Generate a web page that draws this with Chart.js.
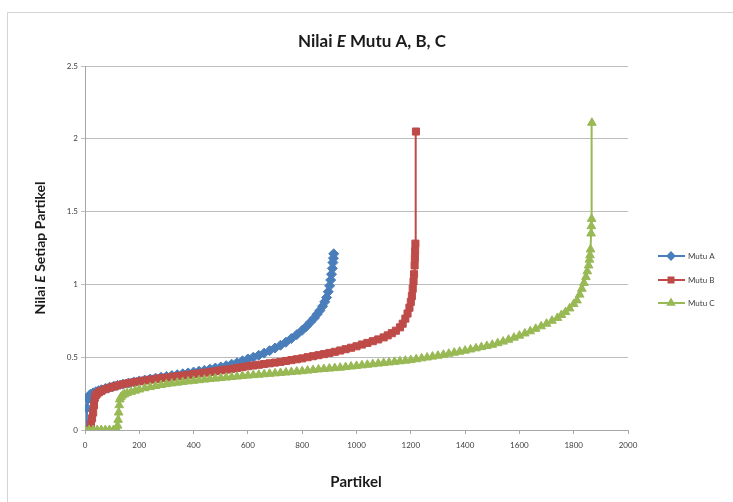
<!DOCTYPE html>
<html>
<head>
<meta charset="utf-8">
<title>Nilai E Mutu A, B, C</title>
<script src="https://cdn.jsdelivr.net/npm/chart.js@4"></script>
<style>
  html, body { margin: 0; padding: 0; background: #ffffff; }
  #wrap { width: 733px; height: 502px; position: relative; }
</style>
</head>
<body>
<div id="wrap"><canvas id="chart" width="733" height="502"></canvas></div>
<script>
// Particle index (x) and E value (y) for each grade, sorted ascending by E.
const mutuAParticle = [0, 4, 7, 10, 15, 20, 30, 40, 50, 60, 75, 90, 105, 120, 140, 160, 180, 200, 220, 240, 260, 280, 300, 320, 340, 360, 380, 400, 420, 440, 460, 480, 500, 520, 540, 560, 580, 600, 620, 640, 660, 680, 700, 720, 740, 760, 780, 800, 815, 830, 845, 855, 865, 875, 883, 890, 896, 901, 905, 908, 911, 913, 915, 916];
const mutuAValue    = [0, 0, 0.15, 0.21, 0.235, 0.245, 0.255, 0.263, 0.27, 0.276, 0.285, 0.293, 0.30, 0.307, 0.315, 0.322, 0.33, 0.337, 0.343, 0.35, 0.356, 0.362, 0.368, 0.374, 0.38, 0.386, 0.392, 0.398, 0.404, 0.41, 0.418, 0.426, 0.433, 0.442, 0.452, 0.462, 0.475, 0.488, 0.50, 0.513, 0.528, 0.545, 0.563, 0.582, 0.603, 0.628, 0.655, 0.685, 0.71, 0.74, 0.77, 0.795, 0.82, 0.85, 0.88, 0.91, 0.95, 0.99, 1.03, 1.07, 1.11, 1.15, 1.18, 1.21];

const mutuBParticle = [0, 10, 18, 22, 26, 30, 33, 36, 40, 45, 52, 60, 75, 90, 105, 120, 140, 160, 180, 200, 220, 240, 260, 280, 300, 320, 340, 360, 380, 400, 420, 440, 460, 480, 500, 520, 540, 560, 580, 600, 620, 640, 660, 680, 700, 720, 740, 760, 780, 800, 820, 840, 860, 880, 900, 920, 940, 960, 980, 1000, 1020, 1040, 1060, 1080, 1100, 1115, 1130, 1145, 1160, 1170, 1180, 1188, 1195, 1200, 1204, 1207, 1210, 1212, 1214, 1215, 1216, 1217, 1219];
const mutuBValue    = [0, 0, 0, 0.04, 0.08, 0.12, 0.17, 0.22, 0.24, 0.25, 0.26, 0.268, 0.28, 0.29, 0.298, 0.306, 0.315, 0.322, 0.328, 0.334, 0.34, 0.346, 0.351, 0.356, 0.36, 0.365, 0.37, 0.374, 0.379, 0.384, 0.389, 0.394, 0.399, 0.404, 0.41, 0.415, 0.42, 0.426, 0.432, 0.438, 0.443, 0.448, 0.453, 0.458, 0.463, 0.468, 0.474, 0.48, 0.486, 0.492, 0.50, 0.507, 0.514, 0.521, 0.529, 0.537, 0.546, 0.555, 0.565, 0.575, 0.587, 0.598, 0.61, 0.622, 0.636, 0.65, 0.665, 0.682, 0.705, 0.73, 0.765, 0.80, 0.84, 0.88, 0.92, 0.97, 1.02, 1.07, 1.13, 1.18, 1.23, 1.28, 2.05];

const mutuCParticle = [0, 15, 30, 45, 60, 75, 90, 105, 118, 120, 122, 124, 126, 128, 132, 138, 145, 155, 170, 185, 200, 220, 240, 260, 280, 300, 320, 340, 360, 380, 400, 420, 440, 460, 480, 500, 520, 540, 560, 580, 600, 620, 640, 660, 680, 700, 720, 740, 760, 780, 800, 820, 840, 860, 880, 900, 920, 940, 960, 980, 1000, 1020, 1040, 1060, 1080, 1100, 1120, 1140, 1160, 1180, 1200, 1220, 1240, 1260, 1280, 1300, 1320, 1340, 1360, 1380, 1400, 1420, 1440, 1460, 1480, 1500, 1520, 1540, 1560, 1580, 1600, 1620, 1640, 1660, 1680, 1700, 1720, 1740, 1755, 1770, 1785, 1800, 1812, 1822, 1830, 1838, 1845, 1850, 1855, 1858, 1860, 1862, 1864, 1865, 1866, 1867];
const mutuCValue    = [0, 0, 0, 0, 0, 0, 0, 0, 0, 0.03, 0.07, 0.12, 0.17, 0.21, 0.225, 0.237, 0.245, 0.253, 0.262, 0.27, 0.278, 0.287, 0.295, 0.302, 0.309, 0.315, 0.32, 0.325, 0.33, 0.334, 0.338, 0.342, 0.346, 0.35, 0.353, 0.357, 0.36, 0.364, 0.367, 0.371, 0.374, 0.377, 0.38, 0.383, 0.386, 0.389, 0.392, 0.395, 0.398, 0.401, 0.404, 0.408, 0.412, 0.416, 0.419, 0.422, 0.425, 0.428, 0.432, 0.436, 0.44, 0.444, 0.448, 0.452, 0.456, 0.46, 0.464, 0.468, 0.472, 0.476, 0.48, 0.486, 0.492, 0.498, 0.504, 0.51, 0.517, 0.524, 0.531, 0.538, 0.545, 0.553, 0.561, 0.569, 0.577, 0.585, 0.596, 0.607, 0.62, 0.634, 0.648, 0.663, 0.678, 0.695, 0.712, 0.73, 0.75, 0.77, 0.79, 0.81, 0.835, 0.865, 0.89, 0.93, 0.97, 1.01, 1.05, 1.09, 1.13, 1.17, 1.20, 1.24, 1.35, 1.40, 1.45, 2.11];

const seriesNames = ['Mutu A', 'Mutu B', 'Mutu C'];
const seriesColors = ['#4a7ebb', '#be4b48', '#98b954'];
const seriesMarkers = ['rectRot', 'rect', 'triangle'];

const FONT = 'Lato, "Open Sans", "Liberation Sans", sans-serif';

function toPoints(xs, ys) {
  return xs.map((x, i) => ({ x: x, y: ys[i] }));
}

// Title and axis titles contain an italic "E", so they are drawn as mixed runs.
function drawRuns(ctx, runs, size, cx, cy, angle) {
  ctx.save();
  ctx.translate(cx, cy);
  ctx.rotate(angle || 0);
  ctx.textBaseline = 'middle';
  ctx.fillStyle = '#1a1a1a';
  let total = 0;
  runs.forEach(r => {
    ctx.font = (r.italic ? 'italic ' : '') + 'bold ' + size + 'px ' + FONT;
    total += ctx.measureText(r.t).width;
  });
  let x = -total / 2;
  ctx.textAlign = 'left';
  runs.forEach(r => {
    ctx.font = (r.italic ? 'italic ' : '') + 'bold ' + size + 'px ' + FONT;
    ctx.fillText(r.t, x, 0);
    x += ctx.measureText(r.t).width;
  });
  ctx.restore();
}

const framePlugin = {
  id: 'frame',
  beforeDraw(chart) {
    const ctx = chart.ctx;
    ctx.save();
    ctx.fillStyle = '#ffffff';
    ctx.fillRect(0, 0, chart.width, chart.height);
    ctx.strokeStyle = '#d4d4d4';
    ctx.lineWidth = 1;
    ctx.strokeRect(7.5, 12.5, 800, 600);
    ctx.restore();
  },
  afterDraw(chart) {
    const ctx = chart.ctx;
    const area = chart.chartArea;
    drawRuns(ctx, [{ t: 'Nilai ' }, { t: 'E', italic: true }, { t: ' Mutu A, B, C' }], 17, 372, 42, 0);
    drawRuns(ctx, [{ t: 'Partikel' }], 15, 356, 482, 0);
    drawRuns(ctx, [{ t: 'Nilai ' }, { t: 'E', italic: true }, { t: ' Setiap Partikel' }], 14, 40, (area.top + area.bottom) / 2, -Math.PI / 2);

    // Legend: line sample with marker, then the series name
    const rows = [256, 280, 303];
    seriesNames.forEach((name, i) => {
      const y = rows[i];
      ctx.save();
      ctx.strokeStyle = seriesColors[i];
      ctx.lineWidth = 2;
      ctx.beginPath();
      ctx.moveTo(658, y);
      ctx.lineTo(685, y);
      ctx.stroke();
      ctx.fillStyle = seriesColors[i];
      Chart.helpers.drawPoint(ctx, { pointStyle: seriesMarkers[i], radius: 3.5, borderWidth: 1, rotation: 0 }, 671, y);
      ctx.fill();
      ctx.fillStyle = '#404040';
      ctx.font = '8px ' + FONT;
      ctx.textBaseline = 'middle';
      ctx.textAlign = 'left';
      ctx.fillText(name, 688, y);
      ctx.restore();
    });
  }
};

function dataset(i, xs, ys, order) {
  return {
    label: seriesNames[i],
    data: toPoints(xs, ys),
    showLine: true,
    borderColor: seriesColors[i],
    backgroundColor: seriesColors[i],
    borderWidth: 2,
    pointStyle: seriesMarkers[i],
    pointRadius: 5,
    pointBorderWidth: 1,
    pointBorderColor: seriesColors[i],
    pointBackgroundColor: seriesColors[i],
    order: order
  };
}

new Chart(document.getElementById('chart'), {
  type: 'scatter',
  data: {
    datasets: [
      dataset(0, mutuAParticle, mutuAValue, 3),
      dataset(1, mutuBParticle, mutuBValue, 2),
      dataset(2, mutuCParticle, mutuCValue, 1)
    ]
  },
  options: {
    responsive: false,
    devicePixelRatio: 1,
    animation: false,
    layout: { padding: { left: 0, right: 105, top: 66, bottom: 42 } },
    plugins: {
      legend: { display: false },
      title: { display: false },
      tooltip: { enabled: false }
    },
    scales: {
      x: {
        type: 'linear',
        min: 0,
        max: 2000,
        afterFit: s => { s.height = 30; },
        ticks: {
          stepSize: 200,
          padding: 7,
          color: '#404040',
          font: { family: FONT, size: 8 },
          maxRotation: 0,
          callback: v => String(v)
        },
        grid: { drawOnChartArea: false, drawTicks: true, tickLength: 4, color: '#a6a6a6' },
        border: { display: true, color: '#a6a6a6', width: 1 }
      },
      y: {
        type: 'linear',
        min: 0,
        max: 2.5,
        afterFit: s => { s.width = 85; },
        ticks: {
          stepSize: 0.5,
          padding: 3,
          color: '#404040',
          font: { family: FONT, size: 8 },
          callback: v => String(v)
        },
        grid: { color: '#bdbdbd', tickLength: 4, drawTicks: true },
        border: { display: true, color: '#a6a6a6', width: 1 }
      }
    }
  },
  plugins: [framePlugin]
});
</script>
</body>
</html>
